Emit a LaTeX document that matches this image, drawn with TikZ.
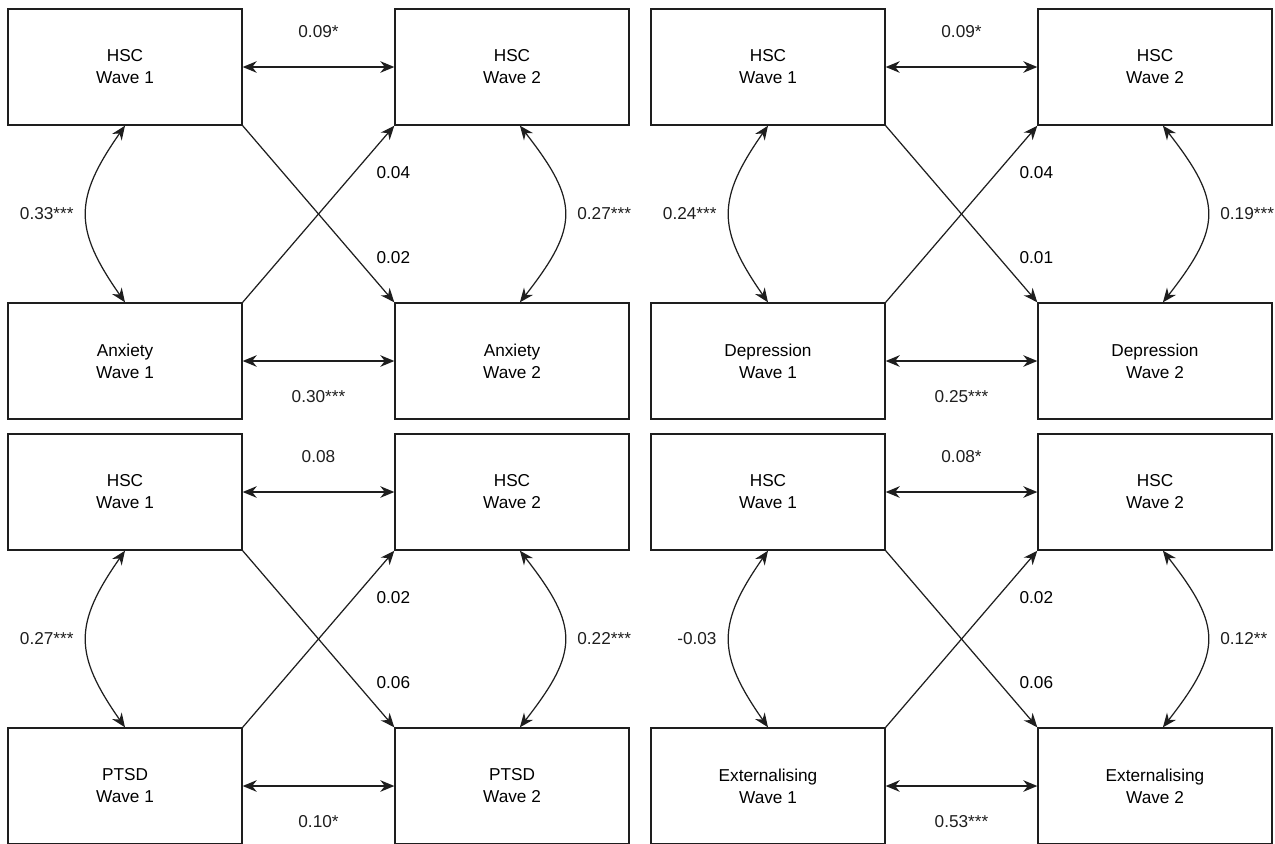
\documentclass[tikz,border=0pt]{standalone}
\usepackage{fontspec}
\setmainfont{Liberation Sans}
\usetikzlibrary{arrows.meta,calc,positioning}
\definecolor{LineGrey}{RGB}{30,30,30}
\tikzset{
  varbox/.style={draw=LineGrey,line width=0.8pt,minimum width=4.68cm,
                 minimum height=2.32cm,align=center,inner sep=0pt,
                 font=\fontsize{9.8}{12.5}\selectfont},
  coef/.style={font=\fontsize{9.8}{12}\selectfont,inner sep=1pt},
  link/.style={-{Stealth[length=8pt,width=6.6pt]},LineGrey,line width=0.7pt},
  covar/.style={{Stealth[length=8pt,width=6.6pt]}-{Stealth[length=8pt,width=6.6pt]},
                LineGrey,line width=0.7pt},
}

\begin{document}
\begin{tikzpicture}[x=0.02cm,y=-0.02cm]
\useasboundingbox (0,0) rectangle (1275,843);
% one cross-lagged panel per outcome
\foreach \ox/\oy/\var/\p/\htop/\hbot/\lcov/\rcov/\dgup/\dgdn in {
  0/0/Anxiety/a/0.09*/0.30***/0.33***/0.27***/0.04/0.02,
  643/0/Depression/b/0.09*/0.25***/0.24***/0.19***/0.04/0.01,
  0/425/PTSD/c/0.08/0.10*/0.27***/0.22***/0.02/0.06,
  643/425/Externalising/d/0.08*/0.53***/-0.03/0.12**/0.02/0.06}{
\node[varbox] (hsc1\p) at (125+\ox,67+\oy) {HSC\\Wave 1};
\node[varbox] (hsc2\p) at (512+\ox,67+\oy) {HSC\\Wave 2};
\node[varbox] (out1\p) at (125+\ox,361+\oy) {\var\\Wave 1};
\node[varbox] (out2\p) at (512+\ox,361+\oy) {\var\\Wave 2};

\draw[covar] (hsc1\p)--node[coef,yshift=20pt](ht\p){\htop}(hsc2\p);
\draw[covar] (out1\p)--node[coef,yshift=-20.5pt](hb\p){\hbot}(out2\p);
\draw[covar] (hsc1\p.south) to[bend right=35,looseness=1.3]
  node[coef,midway,left=6pt](lc\p){\lcov} (out1\p.north);
\draw[covar] ([xshift=4.5pt]hsc2\p.south) to[bend left=38,looseness=1.4]
  node[coef,midway,right=6pt](rc\p){\rcov} ([xshift=4.5pt]out2\p.north);
\draw[link] (hsc1\p.south east)--(out2\p.north west);
\draw[link] (out1\p.north east)--(hsc2\p.south west);
\node[coef] (du\p) at ($(hsc2\p.south west)+(-1,47)$) {\dgup};
\node[coef] (dd\p) at ($(out2\p.north west)+(-1,-45)$) {\dgdn};
}
\end{tikzpicture}
\end{document}
